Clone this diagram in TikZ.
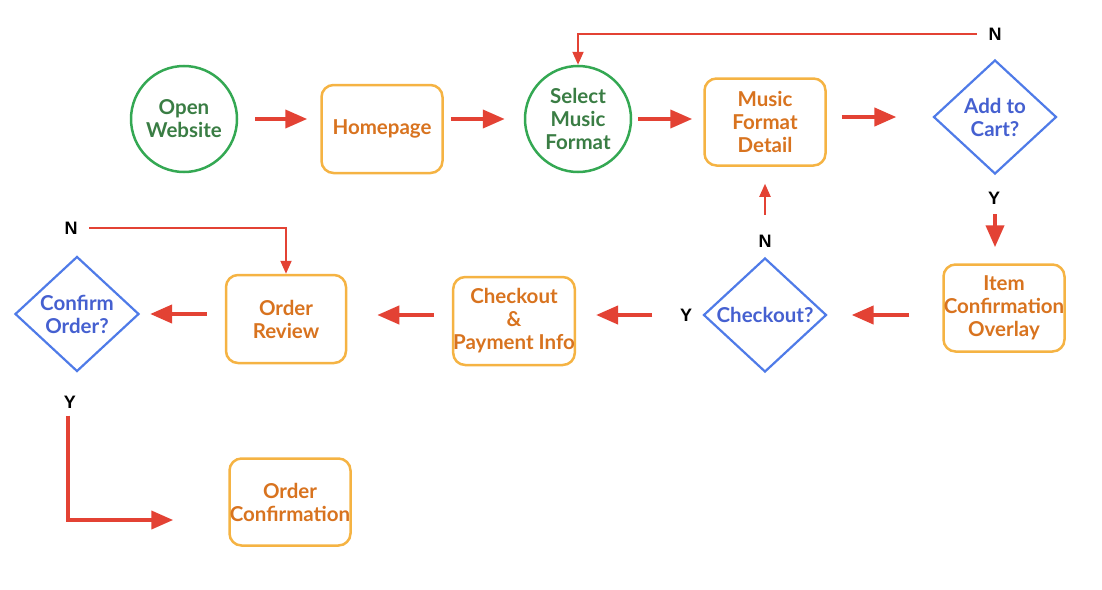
\documentclass[tikz,border=0pt]{standalone}
\usepackage{fontspec}
\setmainfont{Lato}
\newfontfamily\labfont{Liberation Sans}
\usetikzlibrary{shapes.geometric,arrows.meta,calc}
\definecolor{gborder}{HTML}{34A853}
\definecolor{gtext}{HTML}{3A7D44}
\definecolor{oborder}{HTML}{F5B343}
\definecolor{otext}{HTML}{D8731F}
\definecolor{bborder}{HTML}{4F7BE8}
\definecolor{btext}{HTML}{4560D0}
\definecolor{arr}{HTML}{E34234}
\tikzset{
  every node/.style={font=\bfseries\fontsize{20.5}{23}\selectfont, align=center},
  startnode/.style={circle, draw=gborder, line width=2.5pt, text=gtext, minimum size=106pt, inner sep=0pt},
  boxnode/.style={rectangle, rounded corners=12pt, draw=oborder, line width=2.5pt, text=otext, minimum width=121pt, minimum height=88pt, inner sep=0pt},
  decnode/.style={diamond, draw=bborder, line width=2.2pt, text=btext, minimum width=123pt, minimum height=114pt, inner sep=0pt},
  lab/.style={font=\labfont\bfseries\fontsize{18}{20}\selectfont, text=black},
  bigarrow/.style={draw=arr, line width=4pt, -{Triangle[length=22pt,width=18pt]}},
  thinarrow/.style={draw=arr, line width=2pt, -{Triangle[length=13pt,width=11pt]}},
}
\begin{document}
\begin{tikzpicture}[x=1pt,y=-1pt]
\useasboundingbox (0,0) rectangle (1102,589);
% nodes
\node[startnode] (open) at (184,119) {Open\\Website};
\node[boxnode] (home) at (382,129) {Homepage};
\node[startnode] (select) at (578,119) {Select\\Music\\Format};
\node[boxnode, minimum height=87pt] (mfd) at (765,122) {Music\\Format\\Detail};
\node[decnode] (cart) at (995,117) {Add to\\Cart?};
\node[boxnode, minimum height=87pt] (ico) at (1004,308) {Item\\Confirmation\\Overlay};
\node[decnode] (chk) at (765,315) {Checkout?};
\node[boxnode] (pay) at (514,321) {Checkout\\\&\\Payment Info};
\node[boxnode, minimum width=120pt] (rev) at (286,319) {Order\\Review};
\node[decnode, minimum width=124pt, minimum height=115pt] (conf) at (77,314) {Confirm\\Order?};
\node[boxnode, minimum height=87pt] (oc) at (290,502) {Order\\Confirmation};
% labels
\node[lab] (nTop) at (995,34) {N};
\node[lab] (yCart) at (994,198) {Y};
\node[lab] (nChk) at (765,241) {N};
\node[lab] (yChk) at (686,315) {Y};
\node[lab] (nConf) at (71,228) {N};
\node[lab] (yConf) at (70,402) {Y};
\coordinate (ycorner) at (68,520);
% connectors
\draw[bigarrow, shorten <=17pt, shorten >=13pt] (open) -- (open -| home.west);
\draw[bigarrow, shorten <=7pt, shorten >=19pt] (home.east |- select) -- (select);
\draw[bigarrow, shorten <=6pt, shorten >=11pt] (select) -- (select -| mfd.west);
\draw[bigarrow, shorten <=15pt, shorten >=36pt] (mfd.east |- cart) -- (cart);
\draw[bigarrow, shorten <=39pt, shorten >=16pt] (cart) -- (cart |- ico.north);
\draw[bigarrow, shorten <=33pt, shorten >=24pt] (ico.west |- chk) -- (chk);
\draw[bigarrow, shorten <=50pt, shorten >=20pt] (chk) -- (chk -| pay.east);
\draw[bigarrow, shorten <=18pt, shorten >=30pt] (pay.west |- chk) -- (rev.east |- chk);
\draw[bigarrow, shorten <=18pt, shorten >=10pt] (rev.west |- conf) -- (conf);
\draw[thinarrow, shorten <=42pt, shorten >=17pt] (chk) -- (mfd);
\draw[thinarrow] ([xshift=-8pt]nTop.west) -- (nTop.west -| select) -- (select.north);
\draw[thinarrow] ([xshift=8pt]nConf.east) -- (nConf.east -| rev) -- (rev.north);
\draw[bigarrow, shorten >=55pt] ([yshift=-4pt]yConf.south -| ycorner) -- (ycorner) -- (ycorner -| oc.west);
\end{tikzpicture}
\end{document}
